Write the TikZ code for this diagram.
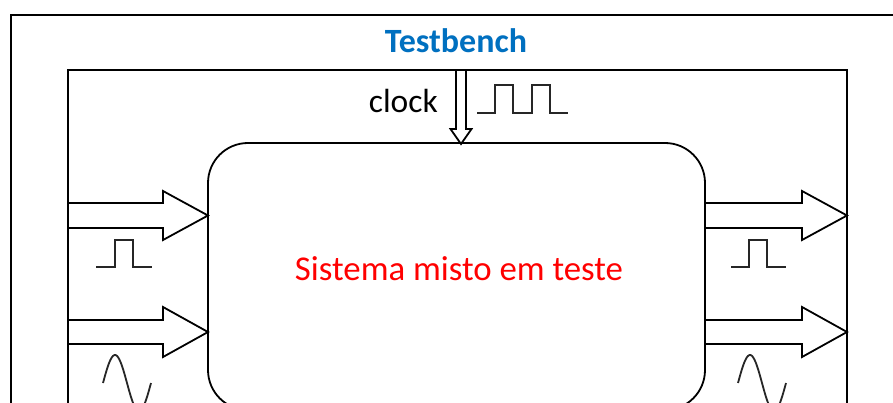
\documentclass[tikz,border=0pt]{standalone}
\usepackage{fontspec}
\setmainfont{Carlito}
\definecolor{tbblue}{RGB}{0,112,192}
\begin{document}
\begin{tikzpicture}[x=1pt,y=-1pt,
  frame/.style={draw=black,line width=1.8pt},
  blockarrow/.style={draw=black,line width=1.8pt,line join=miter},
  wave/.style={draw=black!85,line width=1.8pt},
  lbl/.style={inner sep=0pt,anchor=base}]
\useasboundingbox (0,0) rectangle (893,403);
\clip (0,0) rectangle (893,403);
\fill[white] (0,0) rectangle (893,403);
% outer and inner frames
\draw[frame,line width=2.2pt] (11,15) rectangle (920,460);
\draw[frame] (68,70) rectangle (847,460);
% device under test
\node[frame,rounded corners=40pt,minimum width=497pt,minimum height=267pt,inner sep=0pt] (dut) at (456.5,276.5) {};
\node[lbl,text=red,font=\fontsize{34.8}{40}\selectfont] (dutlbl) at (459,280) {Sistema misto em teste};
\node[lbl,text=tbblue,font=\bfseries\fontsize{34}{38}\selectfont] (tb) at (456,53) {Testbench};
\node[lbl,anchor=base east,font=\fontsize{33.5}{38}\selectfont] (clk) at (438,113) {clock};
% clock arrow
\coordinate (ctop) at (461,70);
\coordinate (ctip) at (461,144);
\draw[blockarrow] ([xshift=-5pt]ctop) -- (456,129) -- (450.5,129) -- (ctip) -- (471.5,129) -- (466,129) -- ([xshift=5pt]ctop);
% input arrows
\coordinate (in1) at (208,215.5);
\coordinate (in2) at (208,332);
\draw[blockarrow] (68,203) -- (163,203) -- (163,191) -- (in1) -- (163,240) -- (163,228) -- (68,228);
\draw[blockarrow] (68,320) -- (163,320) -- (163,307) -- (in2) -- (163,357) -- (163,344) -- (68,344);
% output arrows
\coordinate (out1) at (847,215.5);
\coordinate (out2) at (847,332);
\draw[blockarrow] (705,203) -- (802,203) -- (802,191) -- (out1) -- (802,240) -- (802,228) -- (705,228);
\draw[blockarrow] (705,320) -- (802,320) -- (802,307) -- (out2) -- (802,357) -- (802,344) -- (705,344);
% waveforms
\draw[wave] (477,113) -- (495,113) -- (495,85) -- (513,85) -- (513,113) -- (532,113) -- (532,85) -- (550,85) -- (550,113) -- (568,113);
\draw[wave] (96,267) -- (115,267) -- (115,240) -- (133,240) -- (133,267) -- (152,267);
\draw[wave] (731,267) -- (749,267) -- (749,240) -- (767,240) -- (767,267) -- (786,267);
\draw[wave] plot[domain=0:48,samples=60,smooth] ({103+\x},{383-28*sin(7.5*\x)});
\draw[wave] plot[domain=0:48,samples=60,smooth] ({738+\x},{383-28*sin(7.5*\x)});
\end{tikzpicture}
\end{document}
